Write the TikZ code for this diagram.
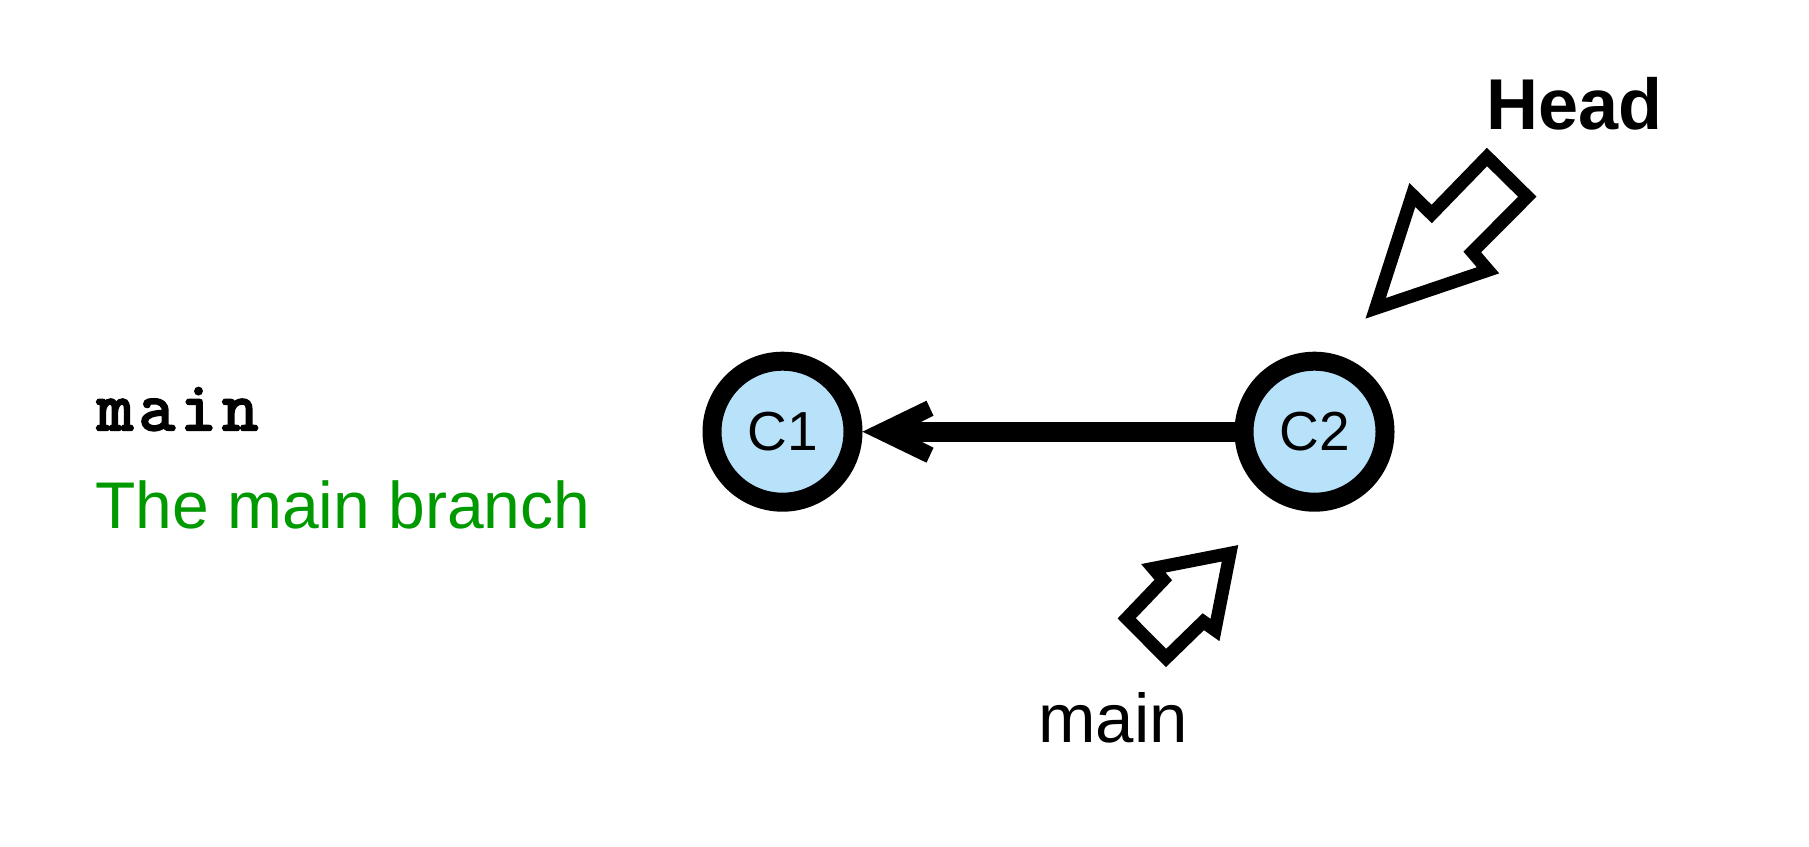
\documentclass[tikz,border=0pt]{standalone}
\usepackage{fontspec}
\setmainfont{Liberation Sans}
\newfontfamily\courbold{Latin Modern Mono}[FakeBold=3.5,LetterSpace=8]
\usetikzlibrary{calc}
\definecolor{cfill}{RGB}{184,226,250}
\definecolor{dgreen}{RGB}{0,153,0}
\begin{document}
\begin{tikzpicture}[x=1pt,y=-1pt,
  commit/.style={circle,draw=black,line width=19pt,fill=cfill,minimum size=141pt,inner sep=0pt,font=\fontsize{55}{62}\selectfont},
  lbl/.style={anchor=base west,inner sep=0pt},
  blockarrow/.style={draw=black,line width=13pt,line join=miter,miter limit=10,fill=white},
  link/.style={line width=20pt}]
\useasboundingbox (0,0) rectangle (1809,846);
\node[commit] (c1) at (782.5,431.7) {C1};
\node[commit] (c2) at (1314.5,431.7) {C2};
\draw[link, shorten >=40pt] (c2.west) -- (c1.east);
\fill (c1.east) -- ++(64,-31) -- ++(7,15) -- ++(-12,6) -- ++(0,20) -- ++(12,6) -- ++(-7,15) -- cycle;
\node[lbl,font=\fontsize{70}{80}\courbold] (mono) at (97,430) {main};
\node[lbl,font=\fontsize{66}{78}\selectfont,text=dgreen] (desc) at (95,528) {The main branch};
\node[lbl,font=\fontsize{72}{86}\selectfont\bfseries] (head) at (1486,129) {Head};
\node[lbl,font=\fontsize{69}{80}\selectfont] (mainlbl) at (1038,742) {main};
\draw[blockarrow] (1375.7,308.3) -- (1412.3,195) -- (1431.7,214) -- (1487,157) -- (1527.3,196.7) -- (1472.3,252) -- (1488,270.3) -- cycle;
\draw[blockarrow] (1230,553.3) -- (1153.3,568.3) -- (1163.3,580) -- (1126.7,618.3) -- (1166,658) -- (1203.3,621.7) -- (1215,630) -- cycle;
\end{tikzpicture}
\end{document}
